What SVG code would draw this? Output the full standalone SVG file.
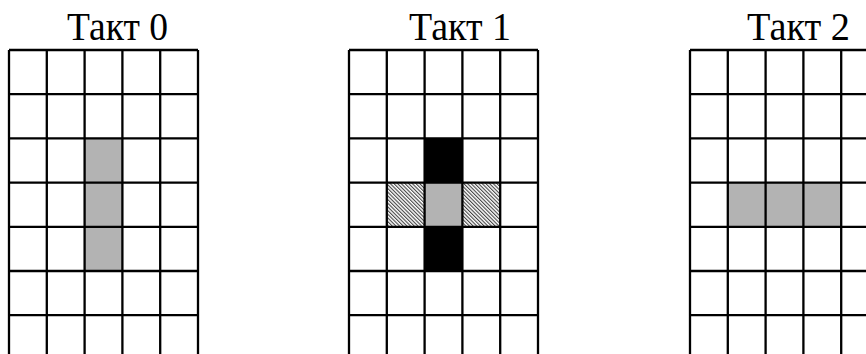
<svg xmlns="http://www.w3.org/2000/svg" width="866" height="354" viewBox="0 0 866 354">
<style>
.t{font-family:"Liberation Serif","Times New Roman",serif;font-size:40px;fill:#000}
.g{stroke:#000;stroke-width:2.3;fill:none}
.gray{fill:#b3b3b3}
.blk{fill:#000}
.hat{fill:url(#hatch)}
</style>
<defs>
<pattern id="hatch" patternUnits="userSpaceOnUse" width="2.6" height="2.6" patternTransform="rotate(-45)">
<rect width="2.6" height="2.6" fill="#fff"/>
<rect width="1.1" height="2.6" fill="#444"/>
</pattern>
<path id="grid0" d="M9 50V354M46.8 50V354M84.6 50V354M122.4 50V354M160.2 50V354M198 50V354M9 50H198M9 94.2H198M9 138.4H198M9 182.6H198M9 226.8H198M9 271H198M9 315.2H198"/>
</defs>
<rect width="866" height="354" fill="#fff"/>
<g id="takt0">
<text class="t" x="67" y="39.5" textLength="101" lengthAdjust="spacingAndGlyphs">Такт 0</text>
<rect class="gray" x="84.6" y="138.4" width="37.8" height="132.6"/>
<use href="#grid0" class="g"/>
</g>
<g id="takt1">
<text class="t" x="409" y="39.5" textLength="102" lengthAdjust="spacingAndGlyphs">Такт 1</text>
<rect class="blk" x="425" y="138.4" width="38" height="44.2"/>
<rect class="blk" x="425" y="226.8" width="38" height="44.2"/>
<rect class="gray" x="425" y="182.6" width="38" height="44.2"/>
<rect class="hat" x="387" y="182.6" width="38" height="44.2"/>
<rect class="hat" x="463" y="182.6" width="38" height="44.2"/>
<use href="#grid0" class="g" transform="translate(340 0)"/>
</g>
<g id="takt2">
<text class="t" x="747" y="39.5" textLength="103" lengthAdjust="spacingAndGlyphs">Такт 2</text>
<rect class="gray" x="728.3" y="182.6" width="113.6" height="44.2"/>
<use href="#grid0" class="g" transform="translate(681 0)"/>
</g>
</svg>
